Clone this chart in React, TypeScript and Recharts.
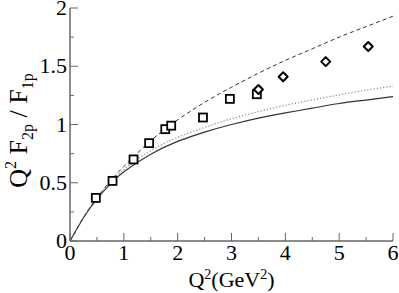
import React from "react";
import {
	ComposedChart,
	Line,
	Scatter,
	XAxis,
	YAxis,
	Label,
} from "recharts";

// Q^2 grid for the model curves
const curveX = [0, 0.25, 0.5, 0.75, 1, 1.5, 2, 2.5, 3, 3.5, 4, 4.5, 5, 5.5, 6];
const dashedY = [0, 0.2, 0.37, 0.515, 0.64, 0.86, 1.04, 1.19, 1.32, 1.44, 1.55, 1.65, 1.75, 1.84, 1.93];
const dottedY = [0, 0.2, 0.37, 0.5, 0.615, 0.775, 0.89, 0.975, 1.05, 1.11, 1.165, 1.21, 1.255, 1.295, 1.33];
const solidY = [0, 0.2, 0.36, 0.49, 0.595, 0.745, 0.855, 0.935, 1.0, 1.055, 1.1, 1.14, 1.18, 1.21, 1.24];

// measured points
const squareX = [0.48, 0.79, 1.18, 1.47, 1.77, 1.88, 2.47, 2.97, 3.47];
const squareY = [0.37, 0.516, 0.7, 0.84, 0.96, 0.99, 1.06, 1.22, 1.26];
const diamondX = [3.5, 3.96, 4.75, 5.54];
const diamondY = [1.3, 1.41, 1.54, 1.67];

const xTicks = [0, 0.5, 1, 1.5, 2, 2.5, 3, 3.5, 4, 4.5, 5, 5.5, 6];
const yTicks = [0, 0.25, 0.5, 0.75, 1, 1.25, 1.5, 1.75, 2];
const xMajor = [0, 1, 2, 3, 4, 5, 6];
const yMajor = [0, 0.5, 1, 1.5, 2];

const curves = curveX.map((x, i) => ({
	x,
	dashed: dashedY[i],
	dotted: dottedY[i],
	solid: solidY[i],
}));
const squares = squareX.map((x, i) => ({ x, y: squareY[i] }));
const diamonds = diamondX.map((x, i) => ({ x, y: diamondY[i] }));

const FONT = "Liberation Serif, DejaVu Serif, Times New Roman, serif";
const AXIS = "#666";
const MAJOR = 8;
const MINOR = 4;

const tickLen = (v: number, major: number[]) => (major.includes(v) ? MAJOR : MINOR);

const BottomTick = (props: any) => {
	const { x, y, payload } = props;
	const v = payload.value;
	return (
		<g>
			<line x1={x} y1={y} x2={x} y2={y - tickLen(v, xMajor)} stroke={AXIS} strokeWidth={1} />
			{xMajor.includes(v) && (
				<text x={x} y={y + 19} textAnchor="middle" fontSize={22} fontFamily={FONT} fill="#000">
					{v}
				</text>
			)}
		</g>
	);
};

const TopTick = (props: any) => {
	const { x, y, payload } = props;
	return (
		<line x1={x} y1={y} x2={x} y2={y + tickLen(payload.value, xMajor)} stroke={AXIS} strokeWidth={1} />
	);
};

const LeftTick = (props: any) => {
	const { x, y, payload } = props;
	const v = payload.value;
	return (
		<g>
			<line x1={x} y1={y} x2={x + tickLen(v, yMajor)} y2={y} stroke={AXIS} strokeWidth={1} />
			{yMajor.includes(v) && (
				<text x={x - 3} y={y + 7} textAnchor="end" fontSize={22} fontFamily={FONT} fill="#000">
					{v}
				</text>
			)}
		</g>
	);
};

const RightTick = (props: any) => {
	const { x, y, payload } = props;
	return (
		<line x1={x} y1={y} x2={x - tickLen(payload.value, yMajor)} y2={y} stroke={AXIS} strokeWidth={1} />
	);
};

const XTitle = (props: any) => {
	const { x, y, width } = props.viewBox;
	return (
		<text x={x + width / 2} y={y + 46} textAnchor="middle" fontSize={22} fontFamily={FONT} fill="#000">
			<tspan>Q</tspan>
			<tspan dy={-8} fontSize={14}>2</tspan>
			<tspan dy={8}>(GeV</tspan>
			<tspan dy={-8} fontSize={14}>2</tspan>
			<tspan dy={8}>)</tspan>
		</text>
	);
};

const YTitle = (props: any) => {
	const { y, height } = props.viewBox;
	const cx = 27;
	const cy = y + height / 2 + 6;
	return (
		<text
			x={cx}
			y={cy}
			transform={`rotate(-90 ${cx} ${cy})`}
			textAnchor="middle"
			fontSize={26}
			fontFamily={FONT}
			fill="#000"
		>
			<tspan>Q</tspan>
			<tspan dy={-11} fontSize={16}>2</tspan>
			<tspan dy={11}> F</tspan>
			<tspan dy={6} fontSize={16}>2p</tspan>
			<tspan dy={-6}>{"  / F"}</tspan>
			<tspan dy={6} fontSize={16}>1p</tspan>
		</text>
	);
};

const SquareMark = (props: any) => {
	const { cx, cy } = props;
	return <rect x={cx - 4} y={cy - 4} width={8} height={8} fill="#fff" stroke="#000" strokeWidth={1.8} />;
};

const DiamondMark = (props: any) => {
	const { cx, cy } = props;
	const r = 4.5;
	return (
		<path
			d={`M${cx},${cy - r} L${cx + r},${cy} L${cx},${cy + r} L${cx - r},${cy} Z`}
			fill="#fff"
			stroke="#000"
			strokeWidth={2}
			strokeLinejoin="round"
		/>
	);
};

export default function App() {
	return (
		<div style={{ position: "absolute", left: 0, top: 0, background: "#fff" }}>
			<ComposedChart
				width={399}
				height={293}
				data={curves}
				margin={{ top: 8, right: 6, bottom: 0, left: 0 }}
			>
				<XAxis
					dataKey="x"
					type="number"
					domain={[0, 6]}
					ticks={xTicks}
					interval={0}
					allowDataOverflow
					height={52}
					tickSize={0}
					tickMargin={0}
					tickLine={false}
					axisLine={{ stroke: AXIS, strokeWidth: 1.5 }}
					tick={<BottomTick />}
				>
					<Label content={<XTitle />} />
				</XAxis>
				<XAxis
					xAxisId="top"
					orientation="top"
					dataKey="x"
					type="number"
					domain={[0, 6]}
					ticks={xTicks}
					interval={0}
					allowDataOverflow
					height={0}
					tickSize={0}
					tickMargin={0}
					tickLine={false}
					axisLine={{ stroke: AXIS, strokeWidth: 1.5 }}
					tick={<TopTick />}
				/>
				<YAxis
					type="number"
					domain={[0, 2]}
					ticks={yTicks}
					interval={0}
					allowDataOverflow
					width={70}
					tickSize={0}
					tickMargin={0}
					tickLine={false}
					axisLine={{ stroke: AXIS, strokeWidth: 1.5 }}
					tick={<LeftTick />}
				>
					<Label content={<YTitle />} />
				</YAxis>
				<YAxis
					yAxisId="right"
					orientation="right"
					type="number"
					domain={[0, 2]}
					ticks={yTicks}
					interval={0}
					allowDataOverflow
					width={0}
					tickSize={0}
					tickMargin={0}
					tickLine={false}
					axisLine={{ stroke: AXIS, strokeWidth: 1.5 }}
					tick={<RightTick />}
				/>
				<Line
					dataKey="solid"
					type="natural"
					stroke="#333"
					strokeWidth={1.2}
					dot={false}
					isAnimationActive={false}
				/>
				<Line
					dataKey="dotted"
					type="natural"
					stroke="#888"
					strokeWidth={1.2}
					strokeDasharray="1.2 2"
					dot={false}
					isAnimationActive={false}
				/>
				<Line
					dataKey="dashed"
					type="natural"
					stroke="#333"
					strokeWidth={1}
					strokeDasharray="4 3"
					dot={false}
					isAnimationActive={false}
				/>
				<Scatter data={squares} dataKey="y" shape={<SquareMark />} isAnimationActive={false} />
				<Scatter data={diamonds} dataKey="y" shape={<DiamondMark />} isAnimationActive={false} />
			</ComposedChart>
		</div>
	);
}
